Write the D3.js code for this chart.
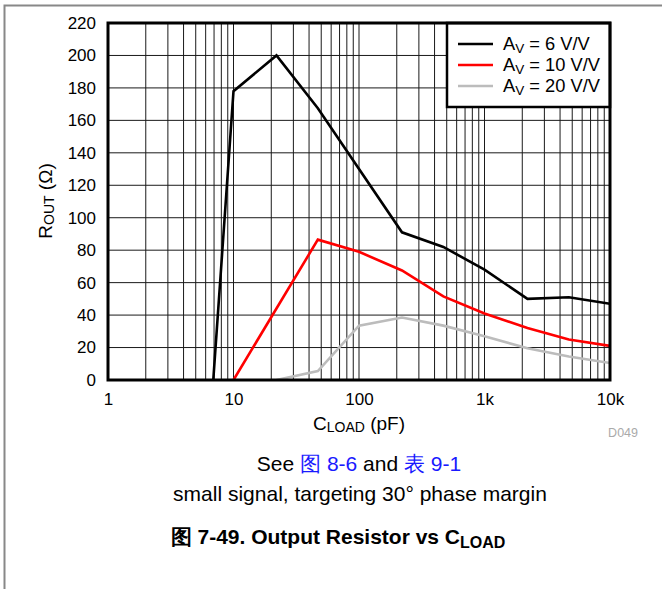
<!DOCTYPE html>
<html><head><meta charset="utf-8">
<script src="https://cdn.jsdelivr.net/npm/d3@7"></script>
<style>
html,body{margin:0;padding:0;background:#fff;}
svg{display:block;font-family:"Liberation Sans",Arial,sans-serif;}
</style></head>
<body>
<svg id="c" width="662" height="589"></svg>
<script>
// ---- data ----
const av6C  = [6.9, 10, 22, 47, 220, 470, 1000, 2200, 4700, 10000];
const av6R  = [0, 178, 200, 167.5, 91, 82, 68, 50, 51, 47];
const av10C = [10, 47, 100, 220, 470, 1000, 2200, 4700, 10000];
const av10R = [0, 86.5, 79, 67.5, 51.5, 41, 32, 25, 21];
const av20C = [22, 47, 100, 220, 470, 1000, 2200, 4700, 10000];
const av20R = [0, 5.5, 33.5, 38.5, 33.5, 27, 19.5, 14.5, 10.5];
const seriesNames = ["6", "10", "20"];
const xTicks = [1, 10, 100, 1000, 10000];
const xTickLabels = ["1", "10", "100", "1k", "10k"];
const yTicks = [0, 20, 40, 60, 80, 100, 120, 140, 160, 180, 200, 220];

const svg = d3.select("#c");
const L = 108, R = 610, T = 23, B = 380;
const x = d3.scaleLog().domain([1, 10000]).range([L, R]);
const y = d3.scaleLinear().domain([0, 220]).range([B, T]);

// outer frame
svg.append("path").attr("d", "M4.5,589 L4.5,5.5 L662,5.5")
  .attr("fill", "none").attr("stroke", "#888").attr("stroke-width", 2);

// grid
const vgrid = [];
[1, 10, 100, 1000].forEach(d => { for (let k = 2; k <= 10; k++) vgrid.push(d * k); });
const g = svg.append("g");
g.selectAll("line.v").data(vgrid.filter(v => v < 10000)).enter().append("line")
  .attr("x1", d => x(d)).attr("x2", d => x(d)).attr("y1", T).attr("y2", B)
  .attr("stroke", "#1a1a1a").attr("stroke-width", 1);
g.selectAll("line.h").data(yTicks.filter(v => v > 0 && v < 220)).enter().append("line")
  .attr("y1", d => y(d)).attr("y2", d => y(d)).attr("x1", L).attr("x2", R)
  .attr("stroke", "#1a1a1a").attr("stroke-width", 1);

// clip
svg.append("clipPath").attr("id", "clip").append("rect")
  .attr("x", L).attr("y", T).attr("width", R - L).attr("height", B - T);

const line = d3.line().x(d => x(d[0])).y(d => y(d[1]));
const series = [
  {c: av6C, r: av6R, color: "#000000"},
  {c: av10C, r: av10R, color: "#ff0000"},
  {c: av20C, r: av20R, color: "#bcbcbc"}
];
const lg = svg.append("g").attr("clip-path", "url(#clip)");
series.slice().reverse().forEach(s => {
  lg.append("path").datum(s.c.map((c, i) => [c, s.r[i]]))
    .attr("d", line).attr("fill", "none").attr("stroke", s.color)
    .attr("stroke-width", 2.6).attr("stroke-linejoin", "miter");
});

// legend
const lx = 447, ly = 23, lw = R - 447, lh = 84;
svg.append("rect").attr("x", lx).attr("y", ly).attr("width", lw).attr("height", lh)
  .attr("fill", "#fff").attr("stroke", "#000").attr("stroke-width", 2.5);
series.forEach((s, i) => {
  const yy = 44 + i * 21;
  svg.append("line").attr("x1", 458).attr("x2", 493).attr("y1", yy).attr("y2", yy)
    .attr("stroke", s.color).attr("stroke-width", 2.6);
  const t = svg.append("text").attr("x", 503).attr("y", yy + 6).attr("font-size", 18.3);
  t.append("tspan").text("A");
  t.append("tspan").attr("font-size", 13.5).attr("dy", 3).text("V");
  t.append("tspan").attr("dy", -3).text(" = " + seriesNames[i] + " V/V");
});

// plot border
svg.append("rect").attr("x", L).attr("y", T).attr("width", R - L).attr("height", B - T)
  .attr("fill", "none").attr("stroke", "#000").attr("stroke-width", 3);

// axes
const xa = svg.append("g").attr("transform", `translate(0,${B + 10})`)
  .call(d3.axisBottom(x).tickValues(xTicks).tickFormat((d, i) => xTickLabels[i]).tickSize(0));
xa.select(".domain").remove();
xa.selectAll("text").attr("font-size", 17).attr("font-family", "Liberation Sans, Arial, sans-serif").attr("fill", "#000");

const ya = svg.append("g").attr("transform", `translate(${L - 9},0)`)
  .call(d3.axisLeft(y).tickValues(yTicks).tickSize(0));
ya.select(".domain").remove();
ya.selectAll("text").attr("font-size", 17).attr("font-family", "Liberation Sans, Arial, sans-serif").attr("fill", "#000");

// axis titles
const xt = svg.append("text").attr("x", 359).attr("y", 430).attr("text-anchor", "middle").attr("font-size", 19);
xt.append("tspan").text("C");
xt.append("tspan").attr("font-size", 14).attr("dy", 2).text("LOAD");
xt.append("tspan").attr("dy", -2).text(" (pF)");

const yt = svg.append("text").attr("transform", "translate(52,201) rotate(-90)")
  .attr("text-anchor", "middle").attr("font-size", 19);
yt.append("tspan").text("R");
yt.append("tspan").attr("font-size", 14).attr("dy", 2).text("OUT");
yt.append("tspan").attr("dy", -2).text(" (Ω)");

svg.append("text").attr("x", 638).attr("y", 437).attr("text-anchor", "end")
  .attr("font-size", 12.5).attr("fill", "#aaa").text("D049");

// captions
const c1 = svg.append("text").attr("x", 359).attr("y", 470.5).attr("text-anchor", "middle").attr("font-size", 21);
c1.append("tspan").text("See ");
c1.append("tspan").attr("fill", "#1a1aff").text("图 8-6");
c1.append("tspan").text(" and ");
c1.append("tspan").attr("fill", "#1a1aff").text("表 9-1");

svg.append("text").attr("x", 360).attr("y", 501).attr("text-anchor", "middle").attr("font-size", 21)
  .text("small signal, targeting 30° phase margin");

const c3 = svg.append("text").attr("x", 338).attr("y", 544).attr("text-anchor", "middle")
  .attr("font-size", 21).attr("font-weight", "bold");
c3.append("tspan").text("图 7-49. Output Resistor vs C");
c3.append("tspan").attr("font-size", 16).attr("dy", 4).text("LOAD");
</script>
</body></html>
